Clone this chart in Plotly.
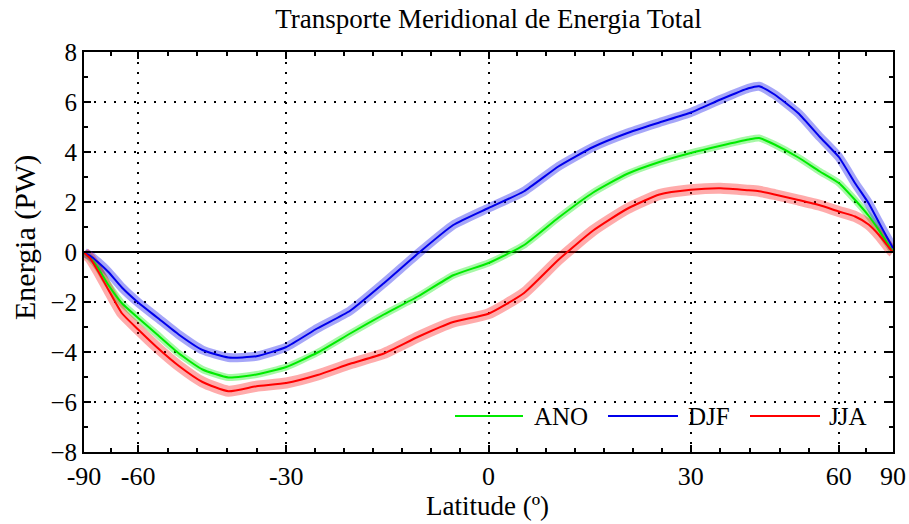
import numpy as np
import plotly.graph_objects as go

# ---- data ----
lat = [-90, -85, -80, -75, -70, -65, -60, -55, -50, -45, -40, -35, -30, -25, -20, -15, -10, -5,
       0, 5, 10, 15, 20, 25, 30, 35, 40, 42, 45, 50, 55, 60, 65, 70, 75, 80, 85, 90]
ano = [0, -0.08, -0.24, -0.62, -1.32, -2.05, -2.64, -3.3, -4.05, -4.7, -5.02, -4.9, -4.6,
       -4.02, -3.26, -2.5, -1.77, -0.93, -0.44, 0.27, 1.38, 2.38, 3.12, 3.6, 3.96, 4.25, 4.5,
       4.56, 4.3, 3.78, 3.22, 2.76, 2.08, 1.45, 0.85, 0.38, 0.1, 0.05]
djf = [0, -0.05, -0.15, -0.4, -0.8, -1.42, -2.02, -2.62, -3.3, -3.92, -4.22, -4.17, -3.8,
       -3.05, -2.35, -1.25, -0.05, 1.08, 1.76, 2.42, 3.43, 4.2, 4.75, 5.18, 5.58, 6.1, 6.55,
       6.63, 6.3, 5.55, 4.6, 3.8, 2.75, 1.95, 1.16, 0.6, 0.27, 0.15]
jja = [0, -0.08, -0.25, -0.75, -1.51, -2.45, -3.1, -3.82, -4.55, -5.2, -5.57, -5.37, -5.24,
       -4.92, -4.47, -4.06, -3.39, -2.8, -2.47, -1.65, -0.3, 0.86, 1.72, 2.3, 2.49, 2.55, 2.47,
       2.43, 2.3, 2.08, 1.87, 1.62, 1.42, 1.1, 0.67, 0.29, 0.05, 0]
series_names = ["ANO", "DJF", "JJA"]
xtick_lats = [-90, -60, -30, 0, 30, 60, 90]
ytick_vals = [-8, -6, -4, -2, 0, 2, 4, 6, 8]

# ---- styles ----
colors = {"ANO": "rgb(0,235,0)", "DJF": "rgb(0,0,235)", "JJA": "rgb(255,0,0)"}
bands = {"ANO": "rgba(0,235,0,0.35)", "DJF": "rgba(0,0,235,0.35)", "JJA": "rgba(255,0,0,0.33)"}
band_w = {"ANO": 7, "DJF": 9, "JJA": 11}
FONT = "Liberation Serif, Times New Roman, serif"

W, H = 909, 524
L, R, T, B = 84, 893, 52, 452


def sx(v):
    return np.sin(np.radians(np.asarray(v, dtype=float)))


def px_x(p):  # pixel -> paper
    return (p - L) / (R - L)


def px_y(p):
    return (B - p) / (B - T)


xs = sx(lat)
values = {"ANO": ano, "DJF": djf, "JJA": jja}

fig = go.Figure()
for name in series_names:
    fig.add_trace(go.Scatter(x=xs, y=values[name], mode="lines", showlegend=False,
                             hoverinfo="skip",
                             line=dict(color=bands[name], width=band_w[name], shape="spline",
                                       smoothing=0.5)))
for name in series_names:
    fig.add_trace(go.Scatter(x=xs, y=values[name], mode="lines", name=name, showlegend=False,
                             line=dict(color=colors[name], width=2, shape="spline",
                                       smoothing=0.5)))

# minor x ticks: subdivisions of each major interval (in sine space)
subdiv = [2, 5, 7, 7, 5, 2]
tv = sx(xtick_lats)
minor_x = []
for i, n in enumerate(subdiv):
    seg = np.linspace(tv[i], tv[i + 1], n + 1)[1:-1]
    minor_x.extend(seg.tolist())

grid_dash = "2px,8px"
fig.update_xaxes(range=[-1, 1], tickmode="array", tickvals=tv.tolist(),
                 ticktext=[str(v) for v in xtick_lats], automargin=False,
                 showline=True, linecolor="black", linewidth=2, mirror="ticks",
                 ticks="inside", ticklen=7, tickwidth=2, tickcolor="black",
                 showgrid=True, gridcolor="black", gridwidth=2, griddash=grid_dash,
                 zeroline=False,
                 minor=dict(tickvals=minor_x, ticks="inside", ticklen=4, tickwidth=2,
                            tickcolor="black", showgrid=False),
                 tickfont=dict(family=FONT, size=26, color="black"))
fig.update_yaxes(range=[-8, 8], tickmode="array", tickvals=ytick_vals, automargin=False,
                 showline=True, linecolor="black", linewidth=2, mirror="ticks",
                 ticks="inside", ticklen=7, tickwidth=2, tickcolor="black",
                 showgrid=True, gridcolor="black", gridwidth=2, griddash=grid_dash,
                 zeroline=True, zerolinecolor="black", zerolinewidth=2,
                 minor=dict(dtick=1, ticks="inside", ticklen=4, tickwidth=2,
                            tickcolor="black", showgrid=False),
                 tickfont=dict(family=FONT, size=25, color="black"),
                 ticklabelstandoff=0)

# axis titles
fig.add_annotation(xref="paper", yref="paper", x=px_x(487), y=px_y(506), xanchor="center",
                   yanchor="middle", text="Latitude (º)", showarrow=False,
                   font=dict(family=FONT, size=27, color="black"))
fig.add_annotation(xref="paper", yref="paper", x=px_x(25), y=px_y(238), xanchor="center",
                   yanchor="middle", text="Energia (PW)", showarrow=False, textangle=-90,
                   font=dict(family=FONT, size=30, color="black"))

# manual legend (bottom right, inside plot)
leg = [("ANO", 455, 523, 532), ("DJF", 608, 678, 686), ("JJA", 750, 820, 827)]
for name, x0, x1, xt in leg:
    yy = px_y(416)
    fig.add_shape(type="line", xref="paper", yref="paper",
                  x0=px_x(x0), x1=px_x(x1), y0=yy, y1=yy,
                  line=dict(color=colors[name], width=2))
    fig.add_annotation(xref="paper", yref="paper", x=px_x(xt), y=yy,
                       xanchor="left", yanchor="middle", text=name, showarrow=False,
                       font=dict(family=FONT, size=25, color="black"))

fig.update_layout(
    width=W, height=H,
    margin=dict(l=L, r=W - R, t=T, b=H - B, autoexpand=False),
    paper_bgcolor="white", plot_bgcolor="white",
    title=dict(text="Transporte Meridional de Energia Total", x=0.5, xref="paper",
               xanchor="center", y=1 - 19 / H, yref="container", yanchor="middle",
               font=dict(family=FONT, size=27, color="black")),
    showlegend=False,
)

# remove the default 8px page margin so the figure fills the window exactly
fig.write_html("out.html", config={"displayModeBar": False},
               post_script="document.body.style.margin='0';document.body.style.padding='0';")
